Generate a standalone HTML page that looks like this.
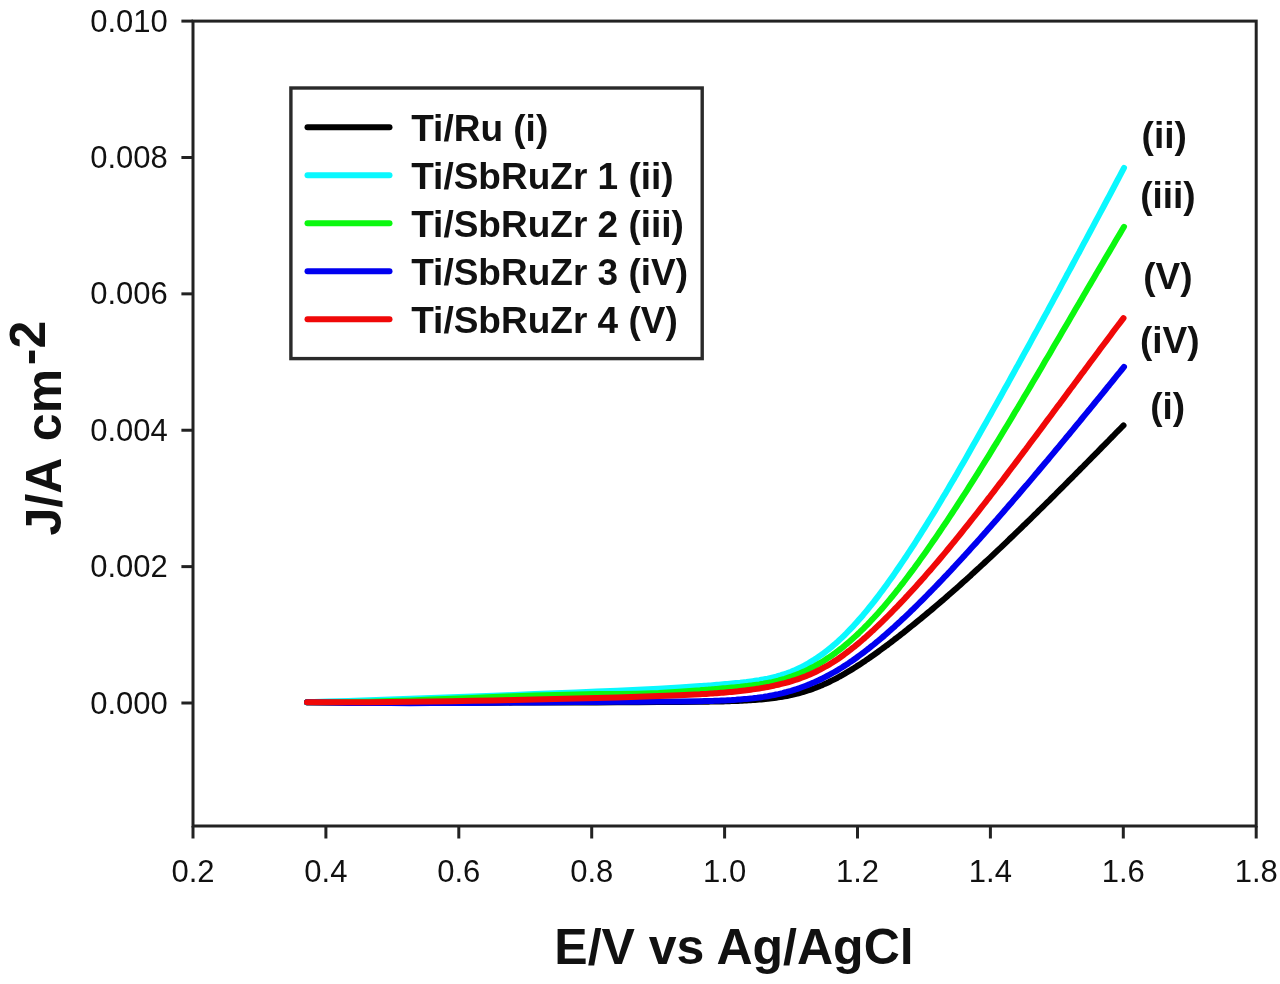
<!DOCTYPE html>
<html><head><meta charset="utf-8"><style>
html,body{margin:0;padding:0;background:#fff;width:1280px;height:984px;overflow:hidden}
svg{display:block;filter:blur(0.45px)}
text{font-family:"Liberation Sans",sans-serif;fill:#111}
.tk{font-size:31px}
.lg{font-size:37px;font-weight:bold}
.ttl{font-size:50px;font-weight:bold}
</style></head><body>
<svg width="1280" height="984" viewBox="0 0 1280 984">
<rect width="1280" height="984" fill="#fff"/>
<path d="M307.0,702.3 L327.7,702.4 L348.4,702.5 L369.1,702.6 L389.7,702.7 L410.4,702.7 L431.1,702.7 L451.8,702.7 L472.5,702.7 L493.2,702.7 L513.8,702.6 L534.5,702.6 L555.2,702.5 L575.9,702.4 L596.6,702.4 L617.3,702.3 L637.9,702.2 L658.6,702.1 L679.3,702.0 L700.0,701.8 L702.0,701.7 L704.1,701.7 L706.2,701.7 L708.4,701.7 L710.5,701.6 L712.6,701.6 L714.7,701.5 L716.8,701.5 L718.9,701.5 L721.1,701.4 L723.2,701.4 L725.3,701.3 L727.4,701.2 L729.5,701.2 L731.7,701.1 L733.8,701.0 L735.9,701.0 L738.0,700.9 L740.1,700.8 L742.2,700.7 L744.4,700.6 L746.5,700.5 L748.6,700.3 L750.7,700.2 L752.8,700.1 L755.0,699.9 L757.1,699.8 L759.2,699.6 L761.3,699.4 L763.4,699.2 L765.5,699.0 L767.7,698.8 L769.8,698.5 L771.9,698.3 L774.0,698.0 L776.1,697.7 L778.3,697.4 L780.4,697.1 L782.5,696.7 L784.6,696.4 L786.7,696.0 L788.8,695.5 L791.0,695.1 L793.1,694.6 L795.2,694.1 L797.3,693.6 L799.4,693.0 L801.6,692.4 L803.7,691.8 L805.8,691.2 L807.9,690.5 L810.0,689.8 L812.1,689.1 L814.3,688.3 L816.4,687.5 L818.5,686.6 L820.6,685.8 L822.7,684.9 L824.8,683.9 L827.0,683.0 L829.1,682.0 L831.2,680.9 L833.3,679.9 L835.4,678.8 L837.6,677.7 L839.7,676.5 L841.8,675.4 L843.9,674.2 L846.0,672.9 L848.1,671.7 L850.3,670.4 L852.4,669.1 L854.5,667.8 L856.6,666.4 L858.7,665.1 L860.9,663.7 L863.0,662.3 L865.1,660.9 L867.2,659.4 L869.3,658.0 L871.4,656.5 L873.6,655.0 L875.7,653.5 L877.8,652.0 L879.9,650.4 L882.0,648.9 L884.2,647.3 L886.3,645.7 L888.4,644.2 L890.5,642.6 L892.6,641.0 L894.7,639.3 L896.9,637.7 L899.0,636.1 L901.1,634.4 L903.2,632.8 L905.3,631.1 L907.5,629.4 L909.6,627.7 L911.7,626.0 L913.8,624.3 L915.9,622.6 L918.0,620.9 L920.2,619.2 L922.3,617.4 L924.4,615.7 L926.5,613.9 L928.6,612.1 L930.8,610.4 L932.9,608.6 L935.0,606.8 L937.1,605.0 L939.2,603.2 L941.3,601.4 L943.5,599.6 L945.6,597.7 L947.7,595.9 L949.8,594.0 L951.9,592.2 L954.1,590.3 L956.2,588.5 L958.3,586.6 L960.4,584.7 L962.5,582.8 L964.6,580.9 L966.8,579.0 L968.9,577.1 L971.0,575.2 L973.1,573.2 L975.2,571.3 L977.4,569.3 L979.5,567.4 L981.6,565.4 L983.7,563.5 L985.8,561.5 L987.9,559.6 L990.1,557.6 L992.2,555.6 L994.3,553.6 L996.4,551.6 L998.5,549.6 L1000.7,547.6 L1002.8,545.6 L1004.9,543.6 L1007.0,541.6 L1009.1,539.5 L1011.2,537.5 L1013.4,535.5 L1015.5,533.4 L1017.6,531.4 L1019.7,529.4 L1021.8,527.3 L1023.9,525.2 L1026.1,523.2 L1028.2,521.1 L1030.3,519.1 L1032.4,517.0 L1034.5,514.9 L1036.7,512.8 L1038.8,510.7 L1040.9,508.7 L1043.0,506.6 L1045.1,504.5 L1047.2,502.4 L1049.4,500.3 L1051.5,498.2 L1053.6,496.1 L1055.7,494.0 L1057.8,491.8 L1060.0,489.7 L1062.1,487.6 L1064.2,485.5 L1066.3,483.4 L1068.4,481.2 L1070.5,479.1 L1072.7,477.0 L1074.8,474.8 L1076.9,472.7 L1079.0,470.6 L1081.1,468.4 L1083.3,466.3 L1085.4,464.1 L1087.5,462.0 L1089.6,459.9 L1091.7,457.7 L1093.8,455.6 L1096.0,453.4 L1098.1,451.3 L1100.2,449.1 L1102.3,446.9 L1104.4,444.8 L1106.6,442.6 L1108.7,440.5 L1110.8,438.3 L1112.9,436.2 L1115.0,434.0 L1117.1,431.8 L1119.3,429.7 L1121.4,427.5 L1123.5,425.4" fill="none" stroke="#000000" stroke-width="6" stroke-linecap="round" stroke-linejoin="round"/>
<path d="M307.0,702.3 L327.7,701.6 L348.4,701.0 L369.1,700.3 L389.7,699.5 L410.4,698.8 L431.1,698.1 L451.8,697.3 L472.5,696.5 L493.2,695.8 L513.8,695.0 L534.5,694.1 L555.2,693.3 L575.9,692.5 L596.6,691.6 L617.3,690.7 L637.9,689.7 L658.6,688.7 L679.3,687.5 L700.0,686.1 L702.0,686.0 L704.1,685.8 L706.2,685.7 L708.4,685.5 L710.5,685.4 L712.6,685.2 L714.7,685.0 L716.8,684.8 L719.0,684.7 L721.1,684.5 L723.2,684.3 L725.3,684.1 L727.4,683.9 L729.6,683.7 L731.7,683.5 L733.8,683.3 L735.9,683.1 L738.1,682.9 L740.2,682.7 L742.3,682.4 L744.4,682.2 L746.5,682.0 L748.7,681.7 L750.8,681.4 L752.9,681.1 L755.0,680.8 L757.1,680.5 L759.3,680.2 L761.4,679.8 L763.5,679.4 L765.6,679.0 L767.7,678.6 L769.9,678.1 L772.0,677.6 L774.1,677.1 L776.2,676.6 L778.3,676.0 L780.5,675.4 L782.6,674.7 L784.7,674.0 L786.8,673.3 L788.9,672.5 L791.1,671.7 L793.2,670.8 L795.3,669.9 L797.4,668.9 L799.5,667.9 L801.7,666.9 L803.8,665.8 L805.9,664.7 L808.0,663.5 L810.2,662.2 L812.3,660.9 L814.4,659.6 L816.5,658.2 L818.6,656.8 L820.8,655.3 L822.9,653.8 L825.0,652.2 L827.1,650.5 L829.2,648.8 L831.4,647.1 L833.5,645.3 L835.6,643.5 L837.7,641.6 L839.8,639.6 L842.0,637.6 L844.1,635.6 L846.2,633.5 L848.3,631.3 L850.4,629.1 L852.6,626.9 L854.7,624.6 L856.8,622.2 L858.9,619.8 L861.0,617.4 L863.2,614.9 L865.3,612.4 L867.4,609.8 L869.5,607.2 L871.6,604.6 L873.8,601.9 L875.9,599.1 L878.0,596.4 L880.1,593.5 L882.3,590.7 L884.4,587.8 L886.5,584.9 L888.6,581.9 L890.7,579.0 L892.9,575.9 L895.0,572.9 L897.1,569.8 L899.2,566.7 L901.3,563.6 L903.5,560.4 L905.6,557.3 L907.7,554.0 L909.8,550.8 L911.9,547.6 L914.1,544.3 L916.2,541.0 L918.3,537.6 L920.4,534.3 L922.5,530.9 L924.7,527.5 L926.8,524.1 L928.9,520.7 L931.0,517.2 L933.1,513.8 L935.3,510.3 L937.4,506.8 L939.5,503.2 L941.6,499.7 L943.7,496.1 L945.9,492.6 L948.0,489.0 L950.1,485.3 L952.2,481.7 L954.4,478.1 L956.5,474.4 L958.6,470.7 L960.7,467.1 L962.8,463.4 L965.0,459.7 L967.1,456.0 L969.2,452.2 L971.3,448.5 L973.4,444.8 L975.6,441.0 L977.7,437.3 L979.8,433.5 L981.9,429.8 L984.0,426.0 L986.2,422.2 L988.3,418.4 L990.4,414.7 L992.5,410.9 L994.6,407.1 L996.8,403.3 L998.9,399.5 L1001.0,395.7 L1003.1,391.8 L1005.2,388.0 L1007.4,384.2 L1009.5,380.4 L1011.6,376.5 L1013.7,372.7 L1015.8,368.8 L1018.0,365.0 L1020.1,361.1 L1022.2,357.3 L1024.3,353.4 L1026.5,349.5 L1028.6,345.7 L1030.7,341.8 L1032.8,337.9 L1034.9,334.0 L1037.1,330.1 L1039.2,326.3 L1041.3,322.4 L1043.4,318.5 L1045.5,314.6 L1047.7,310.7 L1049.8,306.7 L1051.9,302.8 L1054.0,298.9 L1056.1,295.0 L1058.3,291.1 L1060.4,287.1 L1062.5,283.2 L1064.6,279.3 L1066.7,275.3 L1068.9,271.4 L1071.0,267.5 L1073.1,263.5 L1075.2,259.6 L1077.3,255.6 L1079.5,251.7 L1081.6,247.7 L1083.7,243.7 L1085.8,239.8 L1087.9,235.8 L1090.1,231.8 L1092.2,227.9 L1094.3,223.9 L1096.4,219.9 L1098.6,215.9 L1100.7,211.9 L1102.8,208.0 L1104.9,204.0 L1107.0,200.0 L1109.2,196.0 L1111.3,192.0 L1113.4,188.0 L1115.5,184.0 L1117.6,180.0 L1119.8,175.9 L1121.9,171.9 L1124.0,167.9" fill="none" stroke="#0af8ff" stroke-width="6" stroke-linecap="round" stroke-linejoin="round"/>
<path d="M307.0,702.3 L327.7,702.3 L348.4,702.1 L369.1,701.7 L389.7,701.1 L410.4,700.4 L431.1,699.6 L451.8,698.8 L472.5,697.9 L493.2,697.0 L513.8,696.2 L534.5,695.5 L555.2,694.9 L575.9,694.4 L596.6,694.1 L617.3,694.0 L637.9,693.7 L658.6,693.0 L679.3,691.7 L700.0,690.2 L702.0,690.0 L704.1,689.9 L706.2,689.7 L708.4,689.6 L710.5,689.4 L712.6,689.2 L714.7,689.1 L716.8,688.9 L719.0,688.7 L721.1,688.5 L723.2,688.3 L725.3,688.2 L727.4,688.0 L729.6,687.8 L731.7,687.6 L733.8,687.4 L735.9,687.2 L738.1,687.0 L740.2,686.8 L742.3,686.5 L744.4,686.3 L746.5,686.1 L748.7,685.8 L750.8,685.6 L752.9,685.3 L755.0,685.0 L757.1,684.7 L759.3,684.4 L761.4,684.0 L763.5,683.7 L765.6,683.3 L767.7,682.9 L769.9,682.5 L772.0,682.1 L774.1,681.6 L776.2,681.1 L778.3,680.6 L780.5,680.0 L782.6,679.4 L784.7,678.8 L786.8,678.1 L788.9,677.4 L791.1,676.7 L793.2,675.9 L795.3,675.2 L797.4,674.3 L799.5,673.5 L801.7,672.5 L803.8,671.6 L805.9,670.6 L808.0,669.6 L810.2,668.5 L812.3,667.4 L814.4,666.3 L816.5,665.1 L818.6,663.9 L820.8,662.7 L822.9,661.4 L825.0,660.0 L827.1,658.6 L829.2,657.2 L831.4,655.7 L833.5,654.2 L835.6,652.7 L837.7,651.1 L839.8,649.5 L842.0,647.8 L844.1,646.1 L846.2,644.3 L848.3,642.6 L850.4,640.7 L852.6,638.8 L854.7,636.9 L856.8,635.0 L858.9,633.0 L861.0,630.9 L863.2,628.8 L865.3,626.7 L867.4,624.6 L869.5,622.4 L871.6,620.1 L873.8,617.8 L875.9,615.5 L878.0,613.2 L880.1,610.8 L882.3,608.4 L884.4,605.9 L886.5,603.4 L888.6,600.9 L890.7,598.3 L892.9,595.7 L895.0,593.1 L897.1,590.4 L899.2,587.8 L901.3,585.0 L903.5,582.3 L905.6,579.5 L907.7,576.7 L909.8,573.9 L911.9,571.1 L914.1,568.2 L916.2,565.3 L918.3,562.4 L920.4,559.4 L922.5,556.5 L924.7,553.5 L926.8,550.5 L928.9,547.4 L931.0,544.4 L933.1,541.3 L935.3,538.2 L937.4,535.1 L939.5,532.0 L941.6,528.9 L943.7,525.7 L945.9,522.6 L948.0,519.4 L950.1,516.2 L952.2,513.0 L954.4,509.7 L956.5,506.5 L958.6,503.2 L960.7,500.0 L962.8,496.7 L965.0,493.4 L967.1,490.1 L969.2,486.7 L971.3,483.4 L973.4,480.1 L975.6,476.7 L977.7,473.3 L979.8,469.9 L981.9,466.5 L984.0,463.1 L986.2,459.7 L988.3,456.3 L990.4,452.9 L992.5,449.4 L994.6,445.9 L996.8,442.5 L998.9,439.0 L1001.0,435.5 L1003.1,432.0 L1005.2,428.5 L1007.4,425.0 L1009.5,421.5 L1011.6,417.9 L1013.7,414.4 L1015.8,410.8 L1018.0,407.3 L1020.1,403.7 L1022.2,400.2 L1024.3,396.6 L1026.5,393.0 L1028.6,389.4 L1030.7,385.9 L1032.8,382.3 L1034.9,378.7 L1037.1,375.1 L1039.2,371.5 L1041.3,367.9 L1043.4,364.2 L1045.5,360.6 L1047.7,357.0 L1049.8,353.4 L1051.9,349.8 L1054.0,346.1 L1056.1,342.5 L1058.3,338.9 L1060.4,335.3 L1062.5,331.6 L1064.6,328.0 L1066.7,324.4 L1068.9,320.7 L1071.0,317.1 L1073.1,313.5 L1075.2,309.8 L1077.3,306.2 L1079.5,302.6 L1081.6,298.9 L1083.7,295.3 L1085.8,291.7 L1087.9,288.0 L1090.1,284.4 L1092.2,280.8 L1094.3,277.2 L1096.4,273.5 L1098.6,269.9 L1100.7,266.3 L1102.8,262.7 L1104.9,259.1 L1107.0,255.5 L1109.2,251.9 L1111.3,248.3 L1113.4,244.7 L1115.5,241.1 L1117.6,237.5 L1119.8,233.9 L1121.9,230.3 L1124.0,226.8" fill="none" stroke="#0af80f" stroke-width="6" stroke-linecap="round" stroke-linejoin="round"/>
<path d="M307.0,702.2 L327.7,702.6 L348.4,702.9 L369.1,703.0 L389.7,703.1 L410.4,703.2 L431.1,703.1 L451.8,703.0 L472.5,702.9 L493.2,702.7 L513.8,702.6 L534.5,702.4 L555.2,702.2 L575.9,702.0 L596.6,701.9 L617.3,701.8 L637.9,701.7 L658.6,701.6 L679.3,701.4 L700.0,701.2 L702.0,701.2 L704.1,701.1 L706.2,701.1 L708.4,701.0 L710.5,701.0 L712.6,700.9 L714.7,700.8 L716.8,700.8 L719.0,700.7 L721.1,700.6 L723.2,700.5 L725.3,700.4 L727.4,700.3 L729.6,700.2 L731.7,700.1 L733.8,699.9 L735.9,699.8 L738.1,699.6 L740.2,699.5 L742.3,699.3 L744.4,699.1 L746.5,698.9 L748.7,698.7 L750.8,698.5 L752.9,698.3 L755.0,698.0 L757.1,697.8 L759.3,697.5 L761.4,697.2 L763.5,696.9 L765.6,696.5 L767.7,696.2 L769.9,695.8 L772.0,695.4 L774.1,695.0 L776.2,694.5 L778.3,694.1 L780.5,693.6 L782.6,693.1 L784.7,692.5 L786.8,692.0 L788.9,691.4 L791.1,690.8 L793.2,690.1 L795.3,689.5 L797.4,688.8 L799.5,688.1 L801.7,687.3 L803.8,686.5 L805.9,685.7 L808.0,684.9 L810.2,684.0 L812.3,683.1 L814.4,682.2 L816.5,681.2 L818.6,680.3 L820.8,679.2 L822.9,678.2 L825.0,677.1 L827.1,676.0 L829.2,674.9 L831.4,673.7 L833.5,672.5 L835.6,671.3 L837.7,670.1 L839.8,668.8 L842.0,667.5 L844.1,666.1 L846.2,664.8 L848.3,663.4 L850.4,661.9 L852.6,660.5 L854.7,659.0 L856.8,657.5 L858.9,655.9 L861.0,654.4 L863.2,652.8 L865.3,651.2 L867.4,649.5 L869.5,647.9 L871.6,646.2 L873.8,644.5 L875.9,642.7 L878.0,641.0 L880.1,639.2 L882.3,637.4 L884.4,635.6 L886.5,633.7 L888.6,631.9 L890.7,630.0 L892.9,628.1 L895.0,626.2 L897.1,624.2 L899.2,622.3 L901.3,620.3 L903.5,618.3 L905.6,616.3 L907.7,614.3 L909.8,612.3 L911.9,610.2 L914.1,608.2 L916.2,606.1 L918.3,604.0 L920.4,601.9 L922.5,599.8 L924.7,597.6 L926.8,595.5 L928.9,593.3 L931.0,591.2 L933.1,589.0 L935.3,586.8 L937.4,584.6 L939.5,582.4 L941.6,580.2 L943.7,577.9 L945.9,575.7 L948.0,573.4 L950.1,571.2 L952.2,568.9 L954.4,566.6 L956.5,564.3 L958.6,562.0 L960.7,559.7 L962.8,557.4 L965.0,555.1 L967.1,552.8 L969.2,550.4 L971.3,548.1 L973.4,545.8 L975.6,543.4 L977.7,541.0 L979.8,538.7 L981.9,536.3 L984.0,533.9 L986.2,531.5 L988.3,529.1 L990.4,526.7 L992.5,524.3 L994.6,521.9 L996.8,519.5 L998.9,517.1 L1001.0,514.6 L1003.1,512.2 L1005.2,509.7 L1007.4,507.3 L1009.5,504.8 L1011.6,502.4 L1013.7,499.9 L1015.8,497.5 L1018.0,495.0 L1020.1,492.5 L1022.2,490.0 L1024.3,487.6 L1026.5,485.1 L1028.6,482.6 L1030.7,480.1 L1032.8,477.6 L1034.9,475.1 L1037.1,472.6 L1039.2,470.0 L1041.3,467.5 L1043.4,465.0 L1045.5,462.5 L1047.7,460.0 L1049.8,457.4 L1051.9,454.9 L1054.0,452.3 L1056.1,449.8 L1058.3,447.3 L1060.4,444.7 L1062.5,442.1 L1064.6,439.6 L1066.7,437.0 L1068.9,434.5 L1071.0,431.9 L1073.1,429.3 L1075.2,426.8 L1077.3,424.2 L1079.5,421.6 L1081.6,419.0 L1083.7,416.4 L1085.8,413.9 L1087.9,411.3 L1090.1,408.7 L1092.2,406.1 L1094.3,403.5 L1096.4,400.9 L1098.6,398.3 L1100.7,395.7 L1102.8,393.1 L1104.9,390.5 L1107.0,387.8 L1109.2,385.2 L1111.3,382.6 L1113.4,380.0 L1115.5,377.4 L1117.6,374.7 L1119.8,372.1 L1121.9,369.5 L1124.0,366.9" fill="none" stroke="#0000f0" stroke-width="6" stroke-linecap="round" stroke-linejoin="round"/>
<path d="M307.0,702.2 L327.7,702.3 L348.4,702.3 L369.1,702.2 L389.7,702.0 L410.4,701.8 L431.1,701.5 L451.8,701.2 L472.5,700.8 L493.2,700.4 L513.8,700.0 L534.5,699.5 L555.2,699.0 L575.9,698.5 L596.6,698.0 L617.3,697.4 L637.9,696.8 L658.6,696.1 L679.3,695.3 L700.0,694.3 L702.0,694.1 L704.1,694.0 L706.2,693.9 L708.4,693.7 L710.5,693.6 L712.6,693.5 L714.7,693.3 L716.8,693.2 L718.9,693.0 L721.1,692.8 L723.2,692.7 L725.3,692.5 L727.4,692.3 L729.5,692.1 L731.7,691.9 L733.8,691.7 L735.9,691.5 L738.0,691.3 L740.1,691.0 L742.2,690.8 L744.4,690.6 L746.5,690.3 L748.6,690.0 L750.7,689.7 L752.8,689.4 L755.0,689.1 L757.1,688.8 L759.2,688.5 L761.3,688.1 L763.4,687.8 L765.5,687.4 L767.7,687.0 L769.8,686.6 L771.9,686.1 L774.0,685.7 L776.1,685.2 L778.3,684.7 L780.4,684.2 L782.5,683.7 L784.6,683.2 L786.7,682.6 L788.8,682.0 L791.0,681.4 L793.1,680.7 L795.2,680.0 L797.3,679.3 L799.4,678.6 L801.6,677.8 L803.7,677.0 L805.8,676.2 L807.9,675.3 L810.0,674.4 L812.1,673.5 L814.3,672.5 L816.4,671.5 L818.5,670.4 L820.6,669.3 L822.7,668.2 L824.8,667.0 L827.0,665.8 L829.1,664.6 L831.2,663.3 L833.3,661.9 L835.4,660.6 L837.6,659.2 L839.7,657.7 L841.8,656.2 L843.9,654.7 L846.0,653.1 L848.1,651.5 L850.3,649.9 L852.4,648.2 L854.5,646.6 L856.6,644.8 L858.7,643.1 L860.9,641.3 L863.0,639.4 L865.1,637.6 L867.2,635.7 L869.3,633.8 L871.4,631.8 L873.6,629.9 L875.7,627.9 L877.8,625.9 L879.9,623.8 L882.0,621.8 L884.2,619.7 L886.3,617.6 L888.4,615.5 L890.5,613.4 L892.6,611.2 L894.7,609.0 L896.9,606.9 L899.0,604.6 L901.1,602.4 L903.2,600.2 L905.3,597.9 L907.5,595.6 L909.6,593.3 L911.7,591.0 L913.8,588.7 L915.9,586.4 L918.0,584.0 L920.2,581.6 L922.3,579.3 L924.4,576.9 L926.5,574.4 L928.6,572.0 L930.8,569.6 L932.9,567.1 L935.0,564.6 L937.1,562.2 L939.2,559.7 L941.3,557.2 L943.5,554.6 L945.6,552.1 L947.7,549.5 L949.8,547.0 L951.9,544.4 L954.1,541.8 L956.2,539.2 L958.3,536.6 L960.4,534.0 L962.5,531.3 L964.6,528.7 L966.8,526.0 L968.9,523.4 L971.0,520.7 L973.1,518.0 L975.2,515.3 L977.4,512.6 L979.5,509.9 L981.6,507.2 L983.7,504.5 L985.8,501.8 L987.9,499.0 L990.1,496.3 L992.2,493.5 L994.3,490.8 L996.4,488.0 L998.5,485.2 L1000.7,482.5 L1002.8,479.7 L1004.9,476.9 L1007.0,474.1 L1009.1,471.3 L1011.2,468.5 L1013.4,465.7 L1015.5,462.9 L1017.6,460.1 L1019.7,457.3 L1021.8,454.4 L1023.9,451.6 L1026.1,448.8 L1028.2,446.0 L1030.3,443.1 L1032.4,440.3 L1034.5,437.5 L1036.7,434.6 L1038.8,431.8 L1040.9,428.9 L1043.0,426.1 L1045.1,423.2 L1047.2,420.4 L1049.4,417.5 L1051.5,414.7 L1053.6,411.8 L1055.7,409.0 L1057.8,406.1 L1060.0,403.3 L1062.1,400.4 L1064.2,397.6 L1066.3,394.7 L1068.4,391.9 L1070.5,389.0 L1072.7,386.2 L1074.8,383.3 L1076.9,380.4 L1079.0,377.6 L1081.1,374.7 L1083.3,371.9 L1085.4,369.0 L1087.5,366.2 L1089.6,363.3 L1091.7,360.5 L1093.8,357.7 L1096.0,354.8 L1098.1,352.0 L1100.2,349.1 L1102.3,346.3 L1104.4,343.5 L1106.6,340.6 L1108.7,337.8 L1110.8,335.0 L1112.9,332.1 L1115.0,329.3 L1117.1,326.5 L1119.3,323.7 L1121.4,320.9 L1123.5,318.1" fill="none" stroke="#f00808" stroke-width="6" stroke-linecap="round" stroke-linejoin="round"/>
<rect x="193.0" y="21.1" width="1063.2" height="804.9" fill="none" stroke="#222222" stroke-width="3"/>
<line x1="181.4" y1="703.00" x2="193.0" y2="703.00" stroke="#222222" stroke-width="3"/>
<text x="167.8" y="713.60" text-anchor="end" class="tk">0.000</text>
<line x1="181.4" y1="566.62" x2="193.0" y2="566.62" stroke="#222222" stroke-width="3"/>
<text x="167.8" y="577.22" text-anchor="end" class="tk">0.002</text>
<line x1="181.4" y1="430.24" x2="193.0" y2="430.24" stroke="#222222" stroke-width="3"/>
<text x="167.8" y="440.84" text-anchor="end" class="tk">0.004</text>
<line x1="181.4" y1="293.86" x2="193.0" y2="293.86" stroke="#222222" stroke-width="3"/>
<text x="167.8" y="304.46" text-anchor="end" class="tk">0.006</text>
<line x1="181.4" y1="157.48" x2="193.0" y2="157.48" stroke="#222222" stroke-width="3"/>
<text x="167.8" y="168.08" text-anchor="end" class="tk">0.008</text>
<line x1="181.4" y1="21.10" x2="193.0" y2="21.10" stroke="#222222" stroke-width="3"/>
<text x="167.8" y="31.70" text-anchor="end" class="tk">0.010</text>
<line x1="193.00" y1="826.0" x2="193.00" y2="838.5" stroke="#222222" stroke-width="3"/>
<text x="193.00" y="882.4" text-anchor="middle" class="tk">0.2</text>
<line x1="325.90" y1="826.0" x2="325.90" y2="838.5" stroke="#222222" stroke-width="3"/>
<text x="325.90" y="882.4" text-anchor="middle" class="tk">0.4</text>
<line x1="458.80" y1="826.0" x2="458.80" y2="838.5" stroke="#222222" stroke-width="3"/>
<text x="458.80" y="882.4" text-anchor="middle" class="tk">0.6</text>
<line x1="591.70" y1="826.0" x2="591.70" y2="838.5" stroke="#222222" stroke-width="3"/>
<text x="591.70" y="882.4" text-anchor="middle" class="tk">0.8</text>
<line x1="724.60" y1="826.0" x2="724.60" y2="838.5" stroke="#222222" stroke-width="3"/>
<text x="724.60" y="882.4" text-anchor="middle" class="tk">1.0</text>
<line x1="857.50" y1="826.0" x2="857.50" y2="838.5" stroke="#222222" stroke-width="3"/>
<text x="857.50" y="882.4" text-anchor="middle" class="tk">1.2</text>
<line x1="990.40" y1="826.0" x2="990.40" y2="838.5" stroke="#222222" stroke-width="3"/>
<text x="990.40" y="882.4" text-anchor="middle" class="tk">1.4</text>
<line x1="1123.30" y1="826.0" x2="1123.30" y2="838.5" stroke="#222222" stroke-width="3"/>
<text x="1123.30" y="882.4" text-anchor="middle" class="tk">1.6</text>
<line x1="1256.20" y1="826.0" x2="1256.20" y2="838.5" stroke="#222222" stroke-width="3"/>
<text x="1256.20" y="882.4" text-anchor="middle" class="tk">1.8</text>
<rect x="290.9" y="88.0" width="411.3" height="270.6" fill="#fff" stroke="#2a2a2a" stroke-width="3.4"/>
<line x1="307.5" y1="127.2" x2="389.5" y2="127.2" stroke="#000000" stroke-width="6" stroke-linecap="round"/>
<text x="411.2" y="140.6" class="lg">Ti/Ru (i)</text>
<line x1="307.5" y1="175.2" x2="389.5" y2="175.2" stroke="#0af8ff" stroke-width="6" stroke-linecap="round"/>
<text x="411.2" y="188.6" class="lg">Ti/SbRuZr 1 (ii)</text>
<line x1="307.5" y1="223.2" x2="389.5" y2="223.2" stroke="#0af80f" stroke-width="6" stroke-linecap="round"/>
<text x="411.2" y="236.6" class="lg">Ti/SbRuZr 2 (iii)</text>
<line x1="307.5" y1="271.2" x2="389.5" y2="271.2" stroke="#0000f0" stroke-width="6" stroke-linecap="round"/>
<text x="411.2" y="284.6" class="lg">Ti/SbRuZr 3 (iV)</text>
<line x1="307.5" y1="319.2" x2="389.5" y2="319.2" stroke="#f00808" stroke-width="6" stroke-linecap="round"/>
<text x="411.2" y="332.6" class="lg">Ti/SbRuZr 4 (V)</text>
<text x="1164.2" y="147.6" text-anchor="middle" class="lg">(ii)</text>
<text x="1167.9" y="207.8" text-anchor="middle" class="lg">(iii)</text>
<text x="1167.9" y="288.6" text-anchor="middle" class="lg">(V)</text>
<text x="1169.7" y="352.7" text-anchor="middle" class="lg">(iV)</text>
<text x="1167.7" y="418.6" text-anchor="middle" class="lg">(i)</text>
<text x="734" y="964" text-anchor="middle" class="ttl">E/V vs Ag/AgCl</text>
<text transform="translate(60.5,535.5) rotate(-90)" x="0" y="0" class="ttl">J/A <tspan dx="4.5">cm</tspan><tspan dx="3.7" dy="-16">-2</tspan></text>
</svg>
</body></html>
